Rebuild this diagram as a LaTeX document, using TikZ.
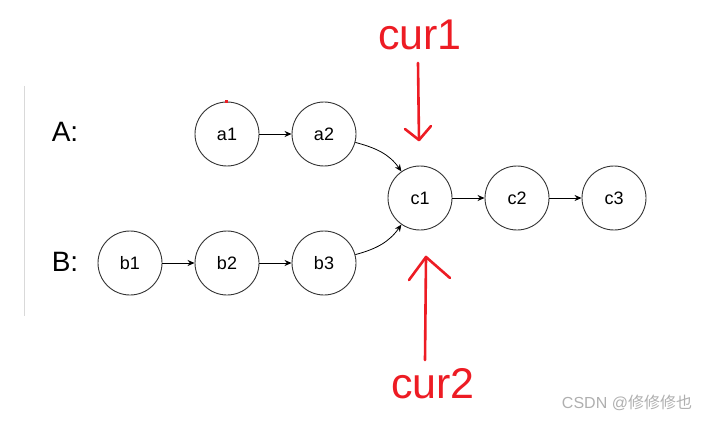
\documentclass[tikz,border=0pt]{standalone}
\usepackage{fontspec}
\setmainfont{Liberation Sans}
\newfontfamily\cjk{Noto Sans CJK SC}
\usepackage{tikz}
\usetikzlibrary{positioning, arrows.meta}

\definecolor{handred}{RGB}{237,28,36}
\definecolor{ringgray}{RGB}{51,51,51}
\definecolor{marktext}{RGB}{175,175,175}

\tikzset{
    listnode/.style={circle, draw=ringgray, line width=0.9pt, minimum size=64pt, inner sep=0pt, font=\fontsize{18}{20}\selectfont},
    link/.style={-{Stealth[length=7pt, width=6pt]}, line width=0.8pt},
    curarrow/.style={draw=handred, line width=2.6pt, line cap=round, line join=round},
    curlabel/.style={text=handred, font=\fontsize{43}{46}\selectfont, inner sep=0pt}
}

\begin{document}
\begin{tikzpicture}[x=1pt, y=-1pt]
                    \useasboundingbox (0, 0) rectangle (711, 422);
                    \draw [gray!30, line width=1pt] (24, 86) -- (24, 316);

                    \node [font=\fontsize{28}{30}\selectfont] (labelA) at (65, 132) {A:};
                    \node [font=\fontsize{28}{30}\selectfont] (labelB) at (65, 262) {B:};

                    \node [listnode] (a1) at (227, 134) {a1};
                    \node [listnode] (a2) at (324, 134) {a2};
                    \node [listnode] (b1) at (130, 263) {b1};
                    \node [listnode] (b2) at (227, 263) {b2};
                    \node [listnode] (b3) at (324, 263) {b3};
                    \node [listnode] (c1) at (420, 198) {c1};
                    \node [listnode] (c2) at (517, 198) {c2};
                    \node [listnode] (c3) at (614, 198) {c3};

                    \draw [link] (a1) -- (a2);
                    \draw [link] (b1) -- (b2);
                    \draw [link] (b2) -- (b3);
                    \draw [link] (c1) -- (c2);
                    \draw [link] (c2) -- (c3);
                    \draw [link] (a2) to [out=-15, in=125] (c1);
                    \draw [link] (b3) to [out=15, in=-125] (c1);

                    \draw [handred, line width=2.5pt] ([xshift=-2pt]a1.north) -- ([xshift=1pt]a1.north);

                    \node [curlabel] (cur1) at (420, 35) {cur1};
                    \node [curlabel] (cur2) at (433, 384) {cur2};

                    \coordinate (tip1) at (419, 140);
                    \coordinate (tip2) at (426, 257);
                    \draw [curarrow] (418, 63) -- (tip1);
                    \draw [curarrow] (405, 129) -- (tip1) -- (431, 126);
                    \draw [curarrow] (425, 360) -- (tip2);
                    \draw [curarrow] (409, 280) -- (tip2) -- (450, 278);

                    \node [text=marktext, font=\fontsize{16}{18}\selectfont] (mark) at (627, 403) {CSDN @{\cjk 修修修也}};
                \end{tikzpicture}
\end{document}
